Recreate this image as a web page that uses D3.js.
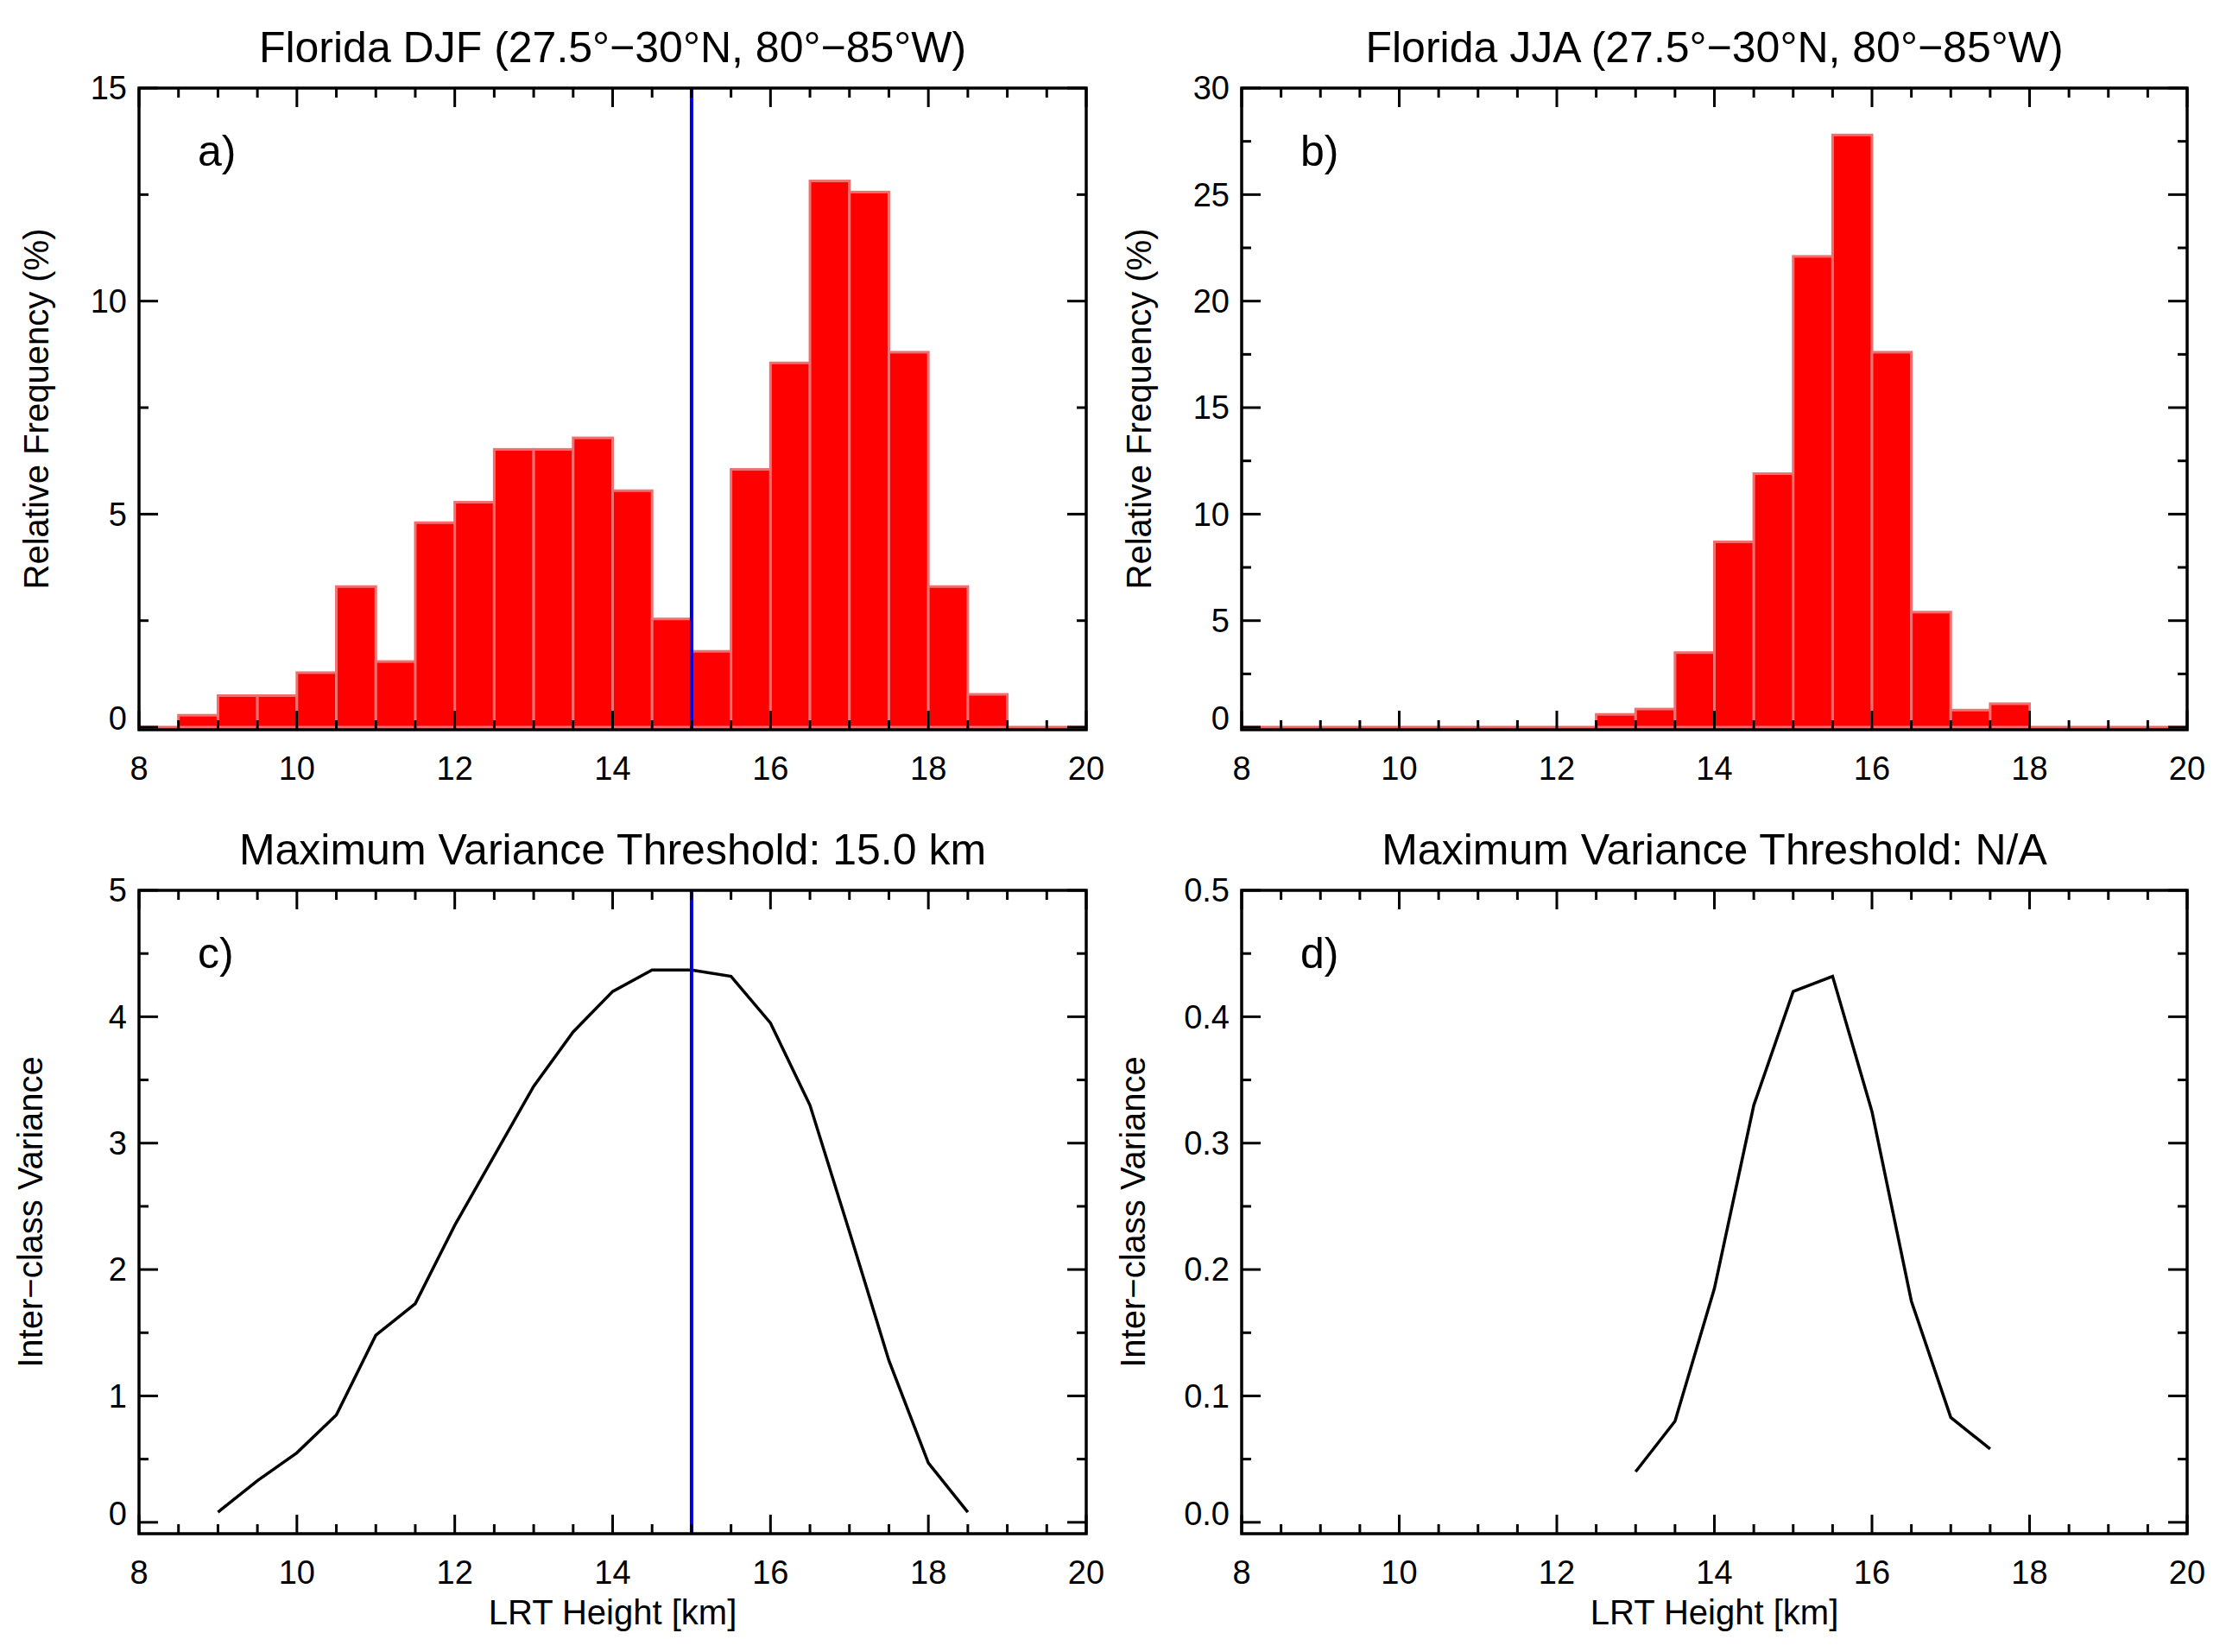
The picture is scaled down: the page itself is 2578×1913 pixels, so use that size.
<!DOCTYPE html>
<html><head><meta charset="utf-8">
<script src="https://cdn.jsdelivr.net/npm/d3@7"></script>
<style>body{margin:0;background:#fff}svg{font-family:"Liberation Sans",Arial,sans-serif}</style>
</head><body>
<svg id="chart" width="2578" height="1913"></svg>
<script>
// histogram bin starts (km), width 0.5
const binsDJF = [8.5,9,9.5,10,10.5,11,11.5,12,12.5,13,13.5,14,14.5,15,15.5,16,16.5,17,17.5,18,18.5];
const freqDJF = [0.28,0.74,0.74,1.28,3.3,1.54,4.8,5.28,6.52,6.52,6.79,5.55,2.54,1.78,6.05,8.55,12.82,12.56,8.8,3.3,0.77];
const binsJJA = [12.5,13,13.5,14,14.5,15,15.5,16,16.5,17,17.5];
const freqJJA = [0.6,0.85,3.5,8.7,11.9,22.1,27.8,17.6,5.4,0.8,1.1];
const varX_DJF = [9,9.5,10,10.5,11,11.5,12,12.5,13,13.5,14,14.5,15,15.5,16,16.5,17,17.5,18,18.5];
const varDJF = [0.08,0.33,0.55,0.85,1.48,1.73,2.35,2.9,3.45,3.88,4.2,4.37,4.37,4.32,3.95,3.3,2.3,1.28,0.47,0.08];
const varX_JJA = [13,13.5,14,14.5,15,15.5,16,16.5,17,17.5];
const varJJA = [0.04,0.08,0.185,0.33,0.42,0.432,0.325,0.175,0.083,0.058];
const xTicks = [8,10,12,14,16,18,20];

const svg = d3.select('#chart');
const cols = [[161,1258],[1438,2533]];
const rows = [[102,845],[1031,1776]];

const panels = [
  {c:0,r:0,title:'Florida DJF (27.5°\u221230°N, 80°\u221285°W)',label:'a)',ymax:15,ystep:5,yminor:2.5,ylab:'Relative Frequency (%)',bins:binsDJF,freq:freqDJF,thr:15},
  {c:1,r:0,title:'Florida JJA (27.5°\u221230°N, 80°\u221285°W)',label:'b)',ymax:30,ystep:5,yminor:2.5,ylab:'Relative Frequency (%)',bins:binsJJA,freq:freqJJA},
  {c:0,r:1,title:'Maximum Variance Threshold: 15.0 km',label:'c)',ymax:5,ystep:1,yminor:0.5,ylab:'Inter\u2212class Variance',lx:varX_DJF,ly:varDJF,thr:15,fmt:d3.format('d')},
  {c:1,r:1,title:'Maximum Variance Threshold: N/A',label:'d)',ymax:0.5,ystep:0.1,yminor:0.05,ylab:'Inter\u2212class Variance',lx:varX_JJA,ly:varJJA,fmt:d3.format('.1f')}
];

panels.forEach(p => {
  const [x0,x1] = cols[p.c], [y0,y1] = rows[p.r];
  const x = d3.scaleLinear().domain([8,20]).range([x0,x1]);
  const ymin = p.bins ? -0.004*p.ymax : -0.018*p.ymax;
  const y = d3.scaleLinear().domain([ymin,p.ymax]).range([y1,y0]);
  const g = svg.append('g');

  if (p.bins) {
    g.append('line').attr('x1',x(8)).attr('x2',x(20)).attr('y1',y(0)).attr('y2',y(0))
      .attr('stroke','#f06868').attr('stroke-width',3);
    g.selectAll('rect.bar').data(p.bins).join('rect')
      .attr('x',d=>x(d)).attr('width',d=>x(d+0.5)-x(d))
      .attr('y',(d,i)=>y(p.freq[i])).attr('height',(d,i)=>y(0)-y(p.freq[i]))
      .attr('fill','#ff0000').attr('stroke','#f07070').attr('stroke-width',3);
  }
  if (p.lx) {
    g.append('path').datum(p.lx.map((d,i)=>[d,p.ly[i]]))
      .attr('d',d3.line().x(d=>x(d[0])).y(d=>y(d[1])))
      .attr('fill','none').attr('stroke','#000').attr('stroke-width',3.5);
  }
  if (p.thr) {
    g.append('line').attr('x1',x(p.thr)).attr('x2',x(p.thr)).attr('y1',y0).attr('y2',y1)
      .attr('stroke','#0000dd').attr('stroke-width',4);
  }

  // frame and inward ticks on all sides
  g.append('rect').attr('x',x0).attr('y',y0).attr('width',x1-x0).attr('height',y1-y0)
    .attr('fill','none').attr('stroke','#000').attr('stroke-width',3.5);
  const xt = d3.range(8,20.01,0.5);
  xt.forEach(v => {
    const L = xTicks.includes(v) ? 22 : 11;
    g.append('line').attr('x1',x(v)).attr('x2',x(v)).attr('y1',y1).attr('y2',y1-L).attr('stroke','#000').attr('stroke-width',3);
    g.append('line').attr('x1',x(v)).attr('x2',x(v)).attr('y1',y0).attr('y2',y0+L).attr('stroke','#000').attr('stroke-width',3);
  });
  const ny = Math.round(p.ymax/p.yminor);
  d3.range(0,ny+1).forEach(k => {
    const v = k*p.yminor;
    const major = k % Math.round(p.ystep/p.yminor) === 0;
    const L = major ? 22 : 11;
    g.append('line').attr('x1',x0).attr('x2',x0+L).attr('y1',y(v)).attr('y2',y(v)).attr('stroke','#000').attr('stroke-width',3);
    g.append('line').attr('x1',x1).attr('x2',x1-L).attr('y1',y(v)).attr('y2',y(v)).attr('stroke','#000').attr('stroke-width',3);
    if (major) {
      g.append('text').attr('x',x0-14).attr('y',y(v)-(k===0?10:0)).attr('dy','0.35em')
        .attr('text-anchor','end').attr('font-size',38)
        .text(p.fmt ? p.fmt(v) : d3.format('d')(v));
    }
  });
  xTicks.forEach(v => {
    g.append('text').attr('x',x(v)).attr('y',y1+58).attr('text-anchor','middle').attr('font-size',38).text(v);
  });

  g.append('text').attr('x',(x0+x1)/2).attr('y',y0-30).attr('text-anchor','middle').attr('font-size',50).text(p.title);
  g.append('text').attr('x',x0+68).attr('y',y0+90).attr('font-size',50).text(p.label);
  g.append('text').attr('transform',`translate(${x0-(p.bins?105:112)},${(y0+y1)/2}) rotate(-90)`)
    .attr('text-anchor','middle').attr('font-size',40).text(p.ylab);
  if (p.r === 1) {
    g.append('text').attr('x',(x0+x1)/2).attr('y',y1+105).attr('text-anchor','middle').attr('font-size',40).text('LRT Height [km]');
  }
});
</script>
</body></html>
